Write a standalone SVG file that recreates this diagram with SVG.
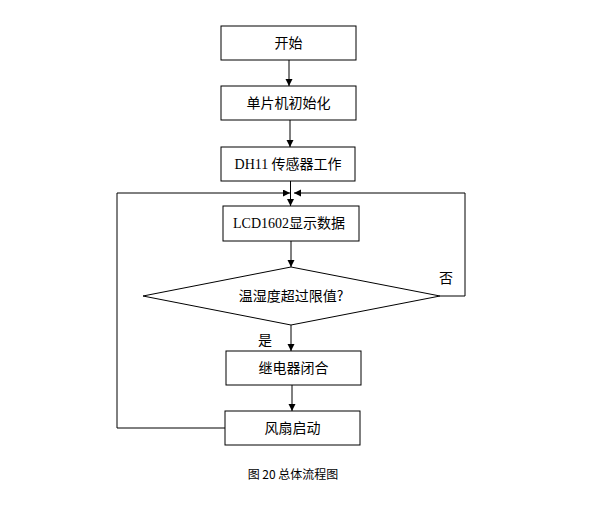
<svg xmlns="http://www.w3.org/2000/svg" width="596" height="528" viewBox="0 0 596 528">
<defs>
<style>
.box{fill:#fff;stroke:#000;stroke-width:1}
.ln{fill:none;stroke:#000;stroke-width:1}
.t{font-family:"Noto Sans CJK SC","Liberation Sans",sans-serif;font-size:14px;fill:#000;text-anchor:middle}
.lat{font-family:"Liberation Serif","Noto Sans CJK SC",serif}
.cap{font-family:"Noto Sans CJK SC","Liberation Sans",sans-serif;font-size:12px;fill:#000;text-anchor:middle}
</style>
<marker id="ah" markerUnits="userSpaceOnUse" markerWidth="8" markerHeight="8" refX="7" refY="3.5" orient="auto">
<path d="M0,0 L7,3.5 L0,7 z" fill="#000"/>
</marker>
</defs>
<rect width="596" height="528" fill="#fff"/>
<g id="connectors">
<path class="ln" d="M289,60 V86" marker-end="url(#ah)"/>
<path class="ln" d="M290,120 V147" marker-end="url(#ah)"/>
<path class="ln" d="M290.5,181 V206" marker-end="url(#ah)"/>
<path class="ln" d="M291,241 V267" marker-end="url(#ah)"/>
<path class="ln" d="M291,325 V351" marker-end="url(#ah)"/>
<path class="ln" d="M292,385 V411" marker-end="url(#ah)"/>
<path class="ln" d="M225,428 H117 V193 H290" marker-end="url(#ah)"/>
<path class="ln" d="M440,296 H465 V193 H294" marker-end="url(#ah)"/>
<text class="t" x="446" y="283">否</text>
<text class="t" x="265" y="345">是</text>
</g>
<g id="start">
<rect class="box" x="221" y="26" width="135" height="34"/>
<text class="t" x="288.5" y="48">开始</text>
</g>
<g id="init">
<rect class="box" x="221" y="86" width="135" height="34"/>
<text class="t" x="288.5" y="108">单片机初始化</text>
</g>
<g id="sensor">
<rect class="box" x="221" y="147" width="134" height="34"/>
<text class="t" x="288" y="169"><tspan class="lat">DH11</tspan> 传感器工作</text>
</g>
<g id="lcd">
<rect class="box" x="223" y="206" width="136" height="35"/>
<text class="t" x="289" y="228"><tspan class="lat">LCD1602</tspan>显示数据</text>
</g>
<g id="decision">
<polygon class="box" points="291,267 440,296 291,325 143,296"/>
<text class="t" x="291" y="301">温湿度超过限值?</text>
</g>
<g id="relay">
<rect class="box" x="226" y="351" width="135" height="34"/>
<text class="t" x="293.5" y="373">继电器闭合</text>
</g>
<g id="fan">
<rect class="box" x="225" y="411" width="135" height="34"/>
<text class="t" x="292.5" y="433">风扇启动</text>
</g>
<g id="caption">
<text class="cap" x="293" y="479" xml:space="preserve">图 20 总体流程图</text>
</g>
</svg>
